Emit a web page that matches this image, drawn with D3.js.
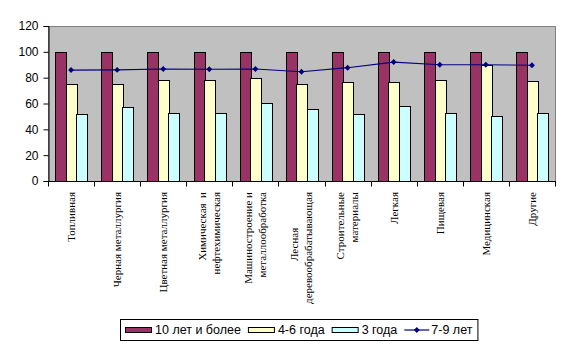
<!DOCTYPE html>
<html>
<head>
<meta charset="utf-8">
<script src="https://cdn.jsdelivr.net/npm/d3@7"></script>
<style>
body { margin: 0; background: #fff; }
svg { display: block; }
</style>
</head>
<body>
<script>
let w = 570
let h = 351

// data
let categories = [
	["Топливная"],
	["Черная металлургия"],
	["Цветная металлургия"],
	["Химическая  и", "нефтехимическая"],
	["Машиностроение и", "металлообработка"],
	["Лесная             ", "деревообрабатывающая"],
	["Строительные", "материалы"],
	["Легкая"],
	["Пищевая"],
	["Медицинская"],
	["Другие"]
]
let seriesNames = ["10 лет и более", "4-6 года", "3 года"]
let lineName = "7-9 лет"
let years10 = [100, 100, 100, 100, 100, 100, 100, 100, 100, 100, 100]
let years46 = [75.3, 75.3, 78, 78, 79.5, 74.8, 76.4, 76.4, 78, 89.6, 77.4]
let years3 = [52.1, 57.5, 52.9, 52.9, 60.1, 55.5, 51.6, 57.8, 52.4, 50.1, 52.4]
let years79 = [85.9, 86, 86.7, 86.5, 86.7, 84.6, 87.7, 92.1, 90, 90, 89.6]
let yTicks = [0, 20, 40, 60, 80, 100, 120]

let colors = ["#993366", "#FFFFCC", "#CCFFFF"]
let lineColor = "#000080"

let plotLeft = 48, plotRight = 555, plotTop = 26, plotBottom = 181

let svg = d3.select("body").append("svg")
	.attr("width", w)
	.attr("height", h)

let xScale = d3.scaleBand()
	.domain(d3.range(categories.length))
	.range([plotLeft, plotRight])

let xInner = d3.scaleBand()
	.domain(d3.range(3))
	.range([0, xScale.bandwidth()])
	.paddingOuter(0.69)

let yScale = d3.scaleLinear()
	.domain([0, 120])
	.range([plotBottom, plotTop])

// plot area
svg.append("rect")
	.attr("x", plotLeft + 0.5).attr("y", plotTop + 0.5)
	.attr("width", plotRight - plotLeft).attr("height", plotBottom - plotTop)
	.attr("fill", "#C0C0C0")
	.attr("stroke", "#808080")

// bars
let barData = [years10, years46, years3]
barData.forEach((arr, s) => {
	svg.append("g").selectAll("rect")
		.data(arr)
		.enter()
		.append("rect")
		.attr("x", (d, i) => Math.round(xScale(i) + xInner(s)) + 0.5)
		.attr("y", d => Math.round(yScale(d)) + 0.5)
		.attr("width", Math.round(xInner.bandwidth()))
		.attr("height", d => Math.round(yScale(0)) - Math.round(yScale(d)))
		.attr("fill", colors[s])
		.attr("stroke", "#000")
		.attr("stroke-width", 1)
})

// line series
let line = d3.line()
	.x((d, i) => xScale(i) + xScale.bandwidth() / 2)
	.y(d => yScale(d))

svg.append("path")
	.datum(years79)
	.attr("d", line)
	.attr("fill", "none")
	.attr("stroke", lineColor)
	.attr("stroke-width", 1.2)

let diamond = d3.symbol().type(d3.symbolDiamond2).size(22)
svg.append("g").selectAll("path")
	.data(years79)
	.enter()
	.append("path")
	.attr("d", diamond)
	.attr("transform", (d, i) => "translate(" + (xScale(i) + xScale.bandwidth() / 2) + "," + yScale(d) + ")")
	.attr("fill", lineColor)

// y axis
let yAxis = d3.axisLeft(yScale).tickValues(yTicks).tickSize(5).tickPadding(5)
let yg = svg.append("g")
	.attr("transform", "translate(" + (plotLeft + 0.5) + ",0)")
	.call(yAxis)
yg.select(".domain").attr("stroke", "#000")
yg.selectAll("text")
	.attr("font-family", "Arial, 'Liberation Sans', sans-serif")
	.attr("font-size", 12)
	.attr("fill", "#000")

// x axis: ticks on category boundaries
let xg = svg.append("g")
	.attr("transform", "translate(0," + (plotBottom + 0.5) + ")")
xg.append("line")
	.attr("x1", plotLeft).attr("x2", plotRight + 1)
	.attr("stroke", "#000")
xg.selectAll(".tick")
	.data(d3.range(categories.length + 1))
	.enter()
	.append("line")
	.attr("x1", i => Math.round(plotLeft + i * xScale.step()) + 0.5)
	.attr("x2", i => Math.round(plotLeft + i * xScale.step()) + 0.5)
	.attr("y1", 0).attr("y2", 5)
	.attr("stroke", "#000")

// category labels, rotated
let labels = svg.append("g").selectAll("text")
	.data(categories)
	.enter()
	.append("text")
	.attr("transform", (d, i) => "translate(" + (xScale(i) + xScale.bandwidth() / 2) + "," + 192 + ") rotate(-90)")
	.attr("text-anchor", "end")
	.attr("font-family", "'Liberation Serif', 'Times New Roman', serif")
	.attr("font-size", 11)
	.style("white-space", "pre")

labels.selectAll("tspan")
	.data(d => d.map((t, j) => ({ t: t, j: j, n: d.length })))
	.enter()
	.append("tspan")
	.attr("x", 0)
	.attr("y", d => (d.j - (d.n - 1) / 2) * 14)
	.attr("dy", "0.35em")
	.text(d => d.t)

// legend
let legend = svg.append("g")
let lx = 120, ly = 319
let items = seriesNames.map((n, i) => ({ name: n, type: "bar", color: colors[i] }))
items.push({ name: lineName, type: "line", color: lineColor })

let cur = lx + 5
let itemG = legend.selectAll("g")
	.data(items)
	.enter()
	.append("g")

itemG.each(function(d) {
	let g = d3.select(this)
	let off = 30
	if (d.type === "bar") {
		g.append("rect")
			.attr("x", cur + 0.5).attr("y", ly + 8.5)
			.attr("width", 26).attr("height", 5)
			.attr("fill", d.color)
			.attr("stroke", "#000")
	} else {
		off = 27
		g.append("line")
			.attr("x1", cur).attr("x2", cur + 25)
			.attr("y1", ly + 11).attr("y2", ly + 11)
			.attr("stroke", d.color).attr("stroke-width", 1.2)
		g.append("path")
			.attr("d", diamond)
			.attr("transform", "translate(" + (cur + 12.5) + "," + (ly + 11) + ")")
			.attr("fill", d.color)
	}
	let t = g.append("text")
		.attr("x", cur + off)
		.attr("y", ly + 10.5)
		.attr("dy", "0.35em")
		.attr("font-family", "Arial, 'Liberation Sans', sans-serif")
		.attr("font-size", 12.5)
		.text(d.name)
	cur += off + t.node().getComputedTextLength() + 7
})

legend.insert("rect", ":first-child")
	.attr("x", lx + 0.5).attr("y", ly + 0.5)
	.attr("width", cur - lx - 2).attr("height", 21)
	.attr("fill", "#fff")
	.attr("stroke", "#000")
</script>
</body>
</html>
